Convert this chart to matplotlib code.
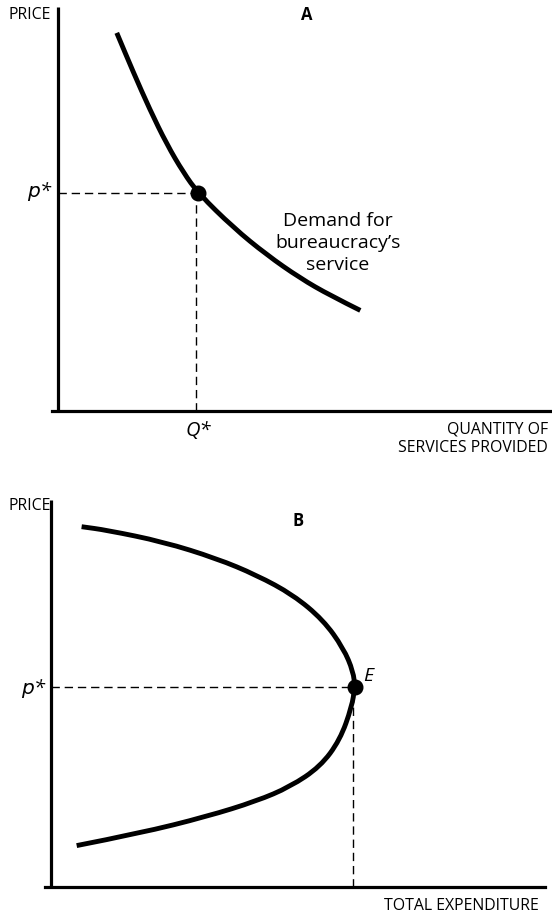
import matplotlib
matplotlib.use("Agg")
import matplotlib.pyplot as plt
from matplotlib.path import Path
from matplotlib.patches import PathPatch

# Panel A: demand for the bureaucracy's service (quantity, price)
demand_quantity = [11.9, 15.2, 18.6, 22.0, 25.4, 28.4, 35.5, 42.2, 49.0, 55.1, 61.2]
demand_price = [93.6, 84.0, 74.6, 66.1, 59.0, 53.9, 45.4, 38.7, 32.9, 28.6, 24.9]
q_star = 28.0
p_star_a = 53.9

# Panel B: total expenditure at each price
expenditure = [6.2, 11.3, 22.7, 33.5, 41.6, 49.0, 55.1, 59.2, 61.2, 61.5,
               60.9, 58.5, 54.5, 48.4, 41.6, 31.5, 18.0, 5.2]
price_b = [93.1, 92.2, 89.2, 84.9, 80.6, 75.5, 69.0, 61.7, 55.6, 51.6,
           46.6, 38.0, 31.1, 25.9, 22.2, 18.2, 13.9, 10.7]
e_star = 61.5
p_star_b = 51.6

W, H = 552, 914
FONT = "Open Sans"

fig = plt.figure(figsize=(W / 100, H / 100), dpi=100)


def fx(x):
    return x / W


def fy(y):
    return 1 - y / H


def make_axes(left, right, top, bottom, x0):
    ax = fig.add_axes([fx(left), fy(bottom), fx(right) - fx(left), fy(top) - fy(bottom)])
    ax.set_xlim(x0, 100)
    ax.set_ylim(0, 100)
    for s in ("top", "right", "left"):
        ax.spines[s].set_visible(False)
    ax.spines["bottom"].set_linewidth(2.3)
    ax.set_xticks([])
    ax.set_yticks([])
    ax.axvline(0, color="black", lw=2.3, solid_capstyle="butt")
    ax.patch.set_alpha(0)
    return ax


def smooth_curve(ax, xs, ys, **kw):
    """Draw a smooth quadratic-Bezier curve guided by the given points."""
    pts = list(zip(xs, ys))
    verts = [pts[0], ((pts[0][0] + pts[1][0]) / 2, (pts[0][1] + pts[1][1]) / 2)]
    codes = [Path.MOVETO, Path.LINETO]
    for i in range(1, len(pts) - 1):
        a, b = pts[i], pts[i + 1]
        end = b if i == len(pts) - 2 else ((a[0] + b[0]) / 2, (a[1] + b[1]) / 2)
        verts += [a, end]
        codes += [Path.CURVE3, Path.CURVE3]
    ax.add_patch(PathPatch(Path(verts, codes), fill=False, **kw))


dash = dict(color="black", lw=1.0, dashes=(6, 3.5))
curve = dict(edgecolor="black", lw=3.5, capstyle="butt")
label = dict(fontsize=11.4, family=FONT, va="center")

# ---- Panel A ----
axA = make_axes(52, 552, 7, 411, -1.21)
smooth_curve(axA, demand_quantity, demand_price, **curve)
axA.plot([0, q_star], [p_star_a, p_star_a], **dash)
axA.plot([q_star, q_star], [0, p_star_a], **dash)
axA.plot([q_star + 0.3], [p_star_a], "o", color="black", ms=10.5)

fig.text(fx(8), fy(15), "PRICE", ha="left", **label)
fig.text(fx(307), fy(15), "A", fontsize=12, family=FONT, weight="bold", va="center", ha="center")
fig.text(fx(53), fy(192), r"$p$*", fontsize=14.5, family=FONT, style="italic", va="center", ha="right")
fig.text(fx(198), fy(431), "Q*", fontsize=14.5, family=FONT, style="italic", va="center", ha="center")
fig.text(fx(548), fy(429), "QUANTITY OF", ha="right", **label)
fig.text(fx(548), fy(448), "SERVICES PROVIDED", ha="right", **label)
fig.text(fx(338), fy(243), "Demand for\nbureaucracy\u2019s\nservice", fontsize=14,
         family=FONT, va="center", ha="center", linespacing=1.25)

# ---- Panel B ----
axB = make_axes(45, 545, 500, 887, -1.21)
smooth_curve(axB, expenditure, price_b, **curve)
axB.plot([0, e_star], [p_star_b, p_star_b], **dash)
axB.plot([e_star - 0.4, e_star - 0.4], [0, p_star_b], **dash)
axB.plot([e_star], [p_star_b], "o", color="black", ms=10.5)

fig.text(fx(8), fy(506), "PRICE", ha="left", **label)
fig.text(fx(298), fy(521), "B", fontsize=12, family=FONT, weight="bold", va="center", ha="center")
fig.text(fx(47), fy(688), r"$p$*", fontsize=14.5, family=FONT, style="italic", va="center", ha="right")
fig.text(fx(363), fy(676), "E", fontsize=14, family=FONT, style="italic", va="center", ha="left")
fig.text(fx(539), fy(906), "TOTAL EXPENDITURE", ha="right", **label)

fig.savefig("out.png", dpi=100)
